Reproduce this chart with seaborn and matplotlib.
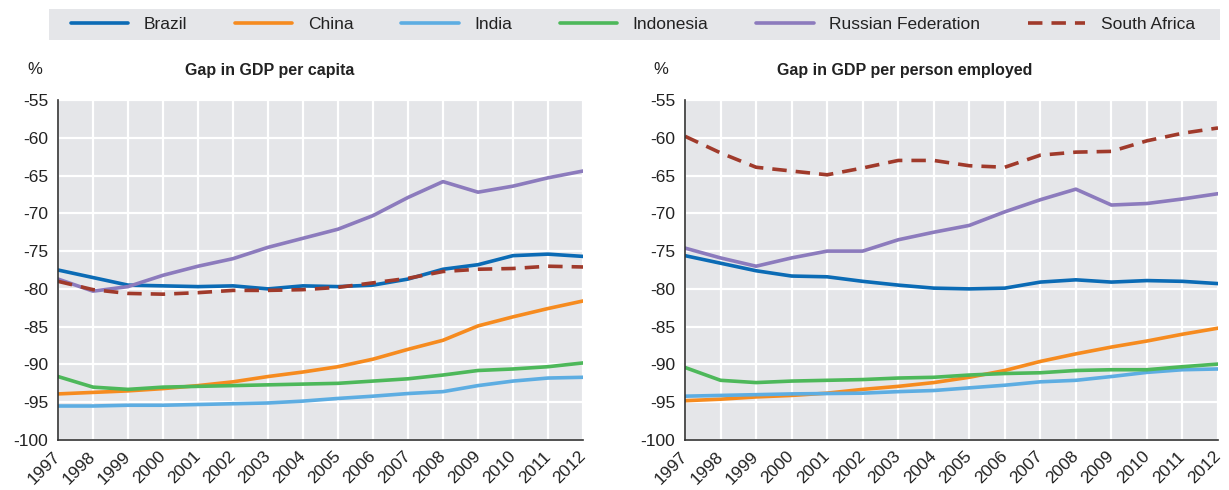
import matplotlib
matplotlib.use("Agg")
import matplotlib.pyplot as plt
from matplotlib.patches import Rectangle
import pandas as pd
import seaborn as sns

years = list(range(1997, 2013))
countries = ["Brazil", "China", "India", "Indonesia", "Russian Federation", "South Africa"]

# Gap in GDP per capita (%)
capita_brazil = [-77.5, -78.5, -79.5, -79.6, -79.7, -79.6, -80.0, -79.6, -79.7, -79.5, -78.7, -77.4, -76.8, -75.6, -75.4, -75.7]
capita_china = [-93.9, -93.7, -93.5, -93.2, -92.8, -92.3, -91.6, -91.0, -90.3, -89.3, -88.0, -86.8, -84.9, -83.7, -82.6, -81.6]
capita_india = [-95.5, -95.5, -95.4, -95.4, -95.3, -95.2, -95.1, -94.85, -94.5, -94.2, -93.85, -93.6, -92.8, -92.2, -91.8, -91.7]
capita_indonesia = [-91.6, -93.0, -93.3, -93.0, -92.9, -92.8, -92.7, -92.6, -92.5, -92.2, -91.9, -91.4, -90.8, -90.6, -90.3, -89.8]
capita_russia = [-78.7, -80.3, -79.7, -78.2, -77.0, -76.0, -74.5, -73.3, -72.1, -70.3, -67.9, -65.8, -67.2, -66.4, -65.3, -64.4]
capita_safrica = [-79.0, -80.1, -80.6, -80.7, -80.5, -80.2, -80.2, -80.1, -79.8, -79.2, -78.6, -77.7, -77.4, -77.3, -77.0, -77.1]

# Gap in GDP per person employed (%)
employed_brazil = [-75.6, -76.6, -77.6, -78.3, -78.4, -79.0, -79.5, -79.9, -80.0, -79.9, -79.1, -78.8, -79.1, -78.9, -79.0, -79.3]
employed_china = [-94.8, -94.6, -94.3, -94.1, -93.8, -93.3, -92.9, -92.4, -91.7, -90.8, -89.6, -88.6, -87.7, -86.9, -86.0, -85.2]
employed_india = [-94.2, -94.1, -94.0, -93.9, -93.85, -93.8, -93.6, -93.45, -93.1, -92.75, -92.3, -92.1, -91.6, -91.05, -90.7, -90.6]
employed_indonesia = [-90.4, -92.1, -92.4, -92.2, -92.1, -92.0, -91.8, -91.7, -91.4, -91.2, -91.1, -90.8, -90.7, -90.7, -90.3, -89.95]
employed_russia = [-74.6, -75.9, -77.0, -75.9, -75.0, -75.0, -73.5, -72.5, -71.6, -69.8, -68.2, -66.8, -68.9, -68.7, -68.1, -67.4]
employed_safrica = [-59.8, -62.0, -63.9, -64.4, -64.9, -64.0, -63.0, -63.0, -63.7, -63.9, -62.3, -61.9, -61.8, -60.4, -59.4, -58.7]

titles = ["Gap in GDP per capita", "Gap in GDP per person employed"]
palette = {
    "Brazil": "#0b6bb5",
    "China": "#f68b1f",
    "India": "#5dade2",
    "Indonesia": "#4db85a",
    "Russian Federation": "#8c7bbd",
    "South Africa": "#a03a2b",
}
dashes = {c: "" for c in countries}
dashes["South Africa"] = (4, 2.5)


def long_frame(series):
    rows = []
    for country, values in zip(countries, series):
        for yr, v in zip(years, values):
            rows.append({"year": yr, "country": country, "value": v})
    return pd.DataFrame(rows)


panels = [
    long_frame([capita_brazil, capita_china, capita_india, capita_indonesia, capita_russia, capita_safrica]),
    long_frame([employed_brazil, employed_china, employed_india, employed_indonesia, employed_russia, employed_safrica]),
]

sns.set_style("white")
plt.rcParams["font.family"] = ["Liberation Sans", "DejaVu Sans"]
plt.rcParams["text.color"] = "#222222"
plt.rcParams["xtick.color"] = "#222222"
plt.rcParams["ytick.color"] = "#222222"

W, H = 1229, 490
fig = plt.figure(figsize=(W / 100, H / 100), dpi=100)
axes = [fig.add_axes([58 / W, 50 / H, 525 / W, 340 / H]),
        fig.add_axes([685 / W, 50 / H, 533 / W, 340 / H])]
title_x = [0.404, 0.412]

for ax, df, title, tx in zip(axes, panels, titles, title_x):
    ax.set_facecolor("#e5e6e9")
    sns.lineplot(data=df, x="year", y="value", hue="country", style="country",
                 palette=palette, dashes=dashes, linewidth=2.6, ax=ax, legend=False)
    ax.set_xlim(1997, 2012)
    ax.set_ylim(-100, -55)
    ax.set_xticks(years)
    ax.set_xticklabels([str(y) for y in years], rotation=45, ha="right", va="center",
                       rotation_mode="anchor", fontsize=12.5)
    ax.set_yticks(range(-100, -54, 5))
    ax.set_yticklabels([str(v) for v in range(-100, -54, 5)], fontsize=12.5)
    ax.grid(True, color="white", linewidth=1.6)
    ax.set_axisbelow(True)
    for s in ["top", "right"]:
        ax.spines[s].set_visible(False)
    for s in ["left", "bottom"]:
        ax.spines[s].set_color("#333333")
        ax.spines[s].set_linewidth(1.2)
    ax.tick_params(axis="x", direction="in", length=7, color="#333333", pad=10)
    ax.tick_params(axis="y", direction="out", length=4, color="#aaaaaa", pad=3)
    ax.set_xlabel("")
    ax.set_ylabel("")
    ax.text(tx, 1.088, title, transform=ax.transAxes, fontsize=11.5, fontweight="bold",
            ha="center", va="center")
    ax.text(-0.045, 1.075, "%", transform=ax.transAxes, fontsize=12, ha="center")

# shared legend band across the top
fig.patches.append(Rectangle((49 / W, 1 - 40 / H), 1171 / W, 31 / H, transform=fig.transFigure,
                             facecolor="#e5e6e9", edgecolor="none", zorder=0))
handles = [plt.Line2D([], [], color=palette[c], linewidth=2.6,
                      linestyle=(0, (4, 2.5)) if c == "South Africa" else "-")
           for c in countries]
fig.legend(handles, countries, loc="center", bbox_to_anchor=(633 / W, 1 - 24.5 / H),
           ncol=6, frameon=False, fontsize=12.5, handlelength=3.3, columnspacing=2.75,
           handletextpad=0.9)

fig.savefig("out.png", dpi=100)
